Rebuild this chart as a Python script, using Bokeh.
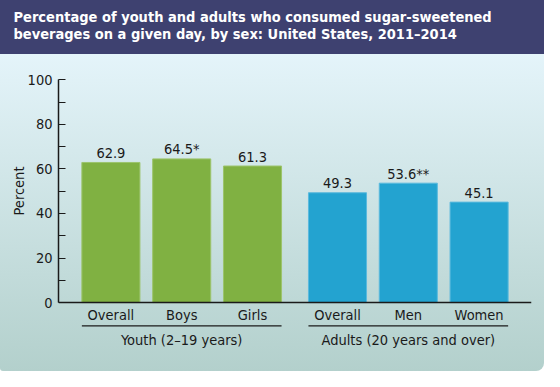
from bokeh.plotting import figure
from bokeh.models import FactorRange, Range1d, LabelSet, ColumnDataSource, FixedTicker, Title
from bokeh.core.properties import value
from bokeh.embed import file_html
from bokeh.resources import INLINE

# ---- data ----
groups = ["Youth (2–19 years)", "Adults (20 years and over)"]
youth_cats = ["Overall", "Boys", "Girls"]
adult_cats = ["Overall", "Men", "Women"]
youth_values = [62.9, 64.5, 61.3]
adult_values = [49.3, 53.6, 45.1]
youth_labels = ["62.9", "64.5*", "61.3"]
adult_labels = ["49.3", "53.6**", "45.1"]
y_ticks = [0, 20, 40, 60, 80, 100]
y_minor = [10, 30, 50, 70, 90]
title_lines = ["Percentage of youth and adults who consumed sugar-sweetened",
               "beverages on a given day, by sex: United States, 2011–2014"]
y_title = "Percent"

# ---- layout / style ----
FONT = "DejaVu Sans Condensed"
W, H = 544, 371
BANNER = 54
LEFT, RIGHT = 58, 13
TOP = 42
Y100_PX, Y0_PX = 79.3, 302.1
ppu = (Y0_PX - Y100_PX) / 100.0
y_end = 100 + (Y100_PX - TOP) / ppu
y_start = -(H - Y0_PX) / ppu

GREEN, BLUE = "#80b142", "#23a3d0"
GREEN_EDGE, BLUE_EDGE = "#9cc46c", "#5ab9dd"
INK = "#1a1a1a"

factors = [(groups[0], c) for c in youth_cats] + [(groups[1], c) for c in adult_cats]
src = ColumnDataSource(dict(
    x=factors,
    top=youth_values + adult_values,
    label=youth_labels + adult_labels,
    color=[GREEN] * 3 + [BLUE] * 3,
    edge=[GREEN_EDGE] * 3 + [BLUE_EDGE] * 3,
))

p = figure(width=W, height=H, output_backend="svg", toolbar_location=None,
           x_range=FactorRange(*factors, group_padding=0.2, factor_padding=0.0,
                               range_padding=0.24, range_padding_units="absolute"),
           y_range=Range1d(y_start, y_end),
           min_border_left=LEFT, min_border_right=RIGHT, min_border_top=TOP, min_border_bottom=0)
p.border_fill_color = None
p.background_fill_color = None
p.outline_line_color = None
p.grid.visible = False
p.styles = {"background": f"linear-gradient(180deg, #3e4170 0px, #3e4170 {BANNER}px, #e4f4fa {BANNER}px, #b3d0cc 100%)",
            "border-radius": "0 0 8px 3px"}

# title
p.title.text = "\n".join(title_lines)
p.title.text_color = "white"
p.title.text_font = FONT
p.title.text_font_style = "bold"
p.title.text_font_size = "14.5px"
p.title.align = "left"
p.title.offset = 13 - LEFT
p.title.standoff = 0
p.title.text_line_height = 1.1

# bars
p.vbar(x="x", top="top", width=0.82, source=src, fill_color="color", line_color="edge", line_width=1)

# value labels
p.add_layout(LabelSet(x="x", y="top", text="label", source=src, y_offset=4.5,
                      text_align="center", text_baseline="alphabetic",
                      text_font=value(FONT), text_font_size="14.5px", text_color=INK))

# y axis
ya = p.yaxis[0]
ya.bounds = (0, 100)
ya.ticker = FixedTicker(ticks=y_ticks, minor_ticks=y_minor)
ya.major_tick_in = 7
ya.major_tick_out = 0
ya.minor_tick_in = 7
ya.minor_tick_out = 0
ya.axis_line_width = 1.5
ya.axis_line_color = INK
ya.major_tick_line_color = INK
ya.minor_tick_line_color = INK
ya.major_tick_line_width = 1.2
ya.minor_tick_line_width = 1.2
ya.major_label_standoff = 6
ya.major_label_text_font = FONT
ya.major_label_text_font_size = "14.5px"
ya.major_label_text_color = INK

# y axis title, as a side title next to the axis, placed along the 0-100 span
p.add_layout(Title(text=y_title, align="left", offset=156, standoff=-4,
                   text_font=FONT, text_font_size="14.5px", text_font_style="normal",
                   text_color=INK), "left")

# x axis inside the frame at y = 0
xa = p.xaxis[0]
xa.fixed_location = 0
xa.axis_line_width = 1.5
xa.axis_line_color = INK
xa.major_tick_line_color = None
xa.minor_tick_line_color = None
xa.major_label_standoff = -2
xa.major_label_text_font = FONT
xa.major_label_text_font_size = "14.5px"
xa.major_label_text_color = INK
xa.group_text_alpha = 0
xa.group_text_font_size = "1px"
xa.separator_line_color = None

# group underlines and group labels
half = 0.41
under_y = -23.3 / ppu
p.segment(x0=[(groups[0], youth_cats[0], -half), (groups[1], adult_cats[0], -half)],
          x1=[(groups[0], youth_cats[-1], half), (groups[1], adult_cats[-1], half)],
          y0=[under_y] * 2, y1=[under_y] * 2, line_color=INK, line_width=1.2)
group_y = -37.0 / ppu
p.text(x=groups, y=[group_y] * 2, text=groups, text_align="center", text_baseline="alphabetic",
       text_font=value(FONT), text_font_size="14.5px", text_color=INK)

open("out.html", "w").write(file_html(p, INLINE))
